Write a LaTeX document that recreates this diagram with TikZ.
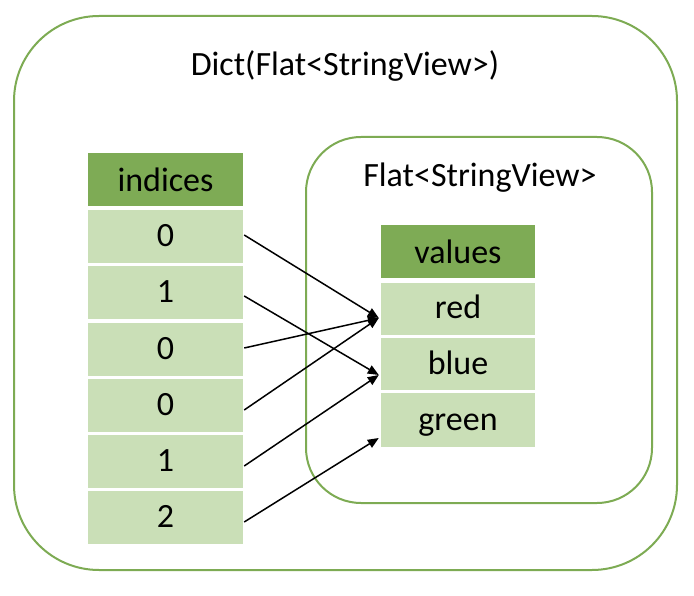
\documentclass[tikz,border=0pt]{standalone}
\usepackage{fontspec}
\setmainfont{Carlito}
\usetikzlibrary{arrows.meta,calc}
\definecolor{gframe}{HTML}{7DAB53}
\definecolor{ghead}{HTML}{7EAB55}
\definecolor{gcell}{HTML}{CADFB7}
\tikzset{
  container/.style={draw=gframe, line width=2pt, fill=none, inner sep=0pt},
  headbox/.style={fill=ghead, minimum height=53pt, inner sep=0pt, text height=25pt, text depth=0pt, font=\fontsize{34}{40}\selectfont},
  cellbox/.style={fill=gcell, minimum height=53pt, inner sep=0pt, text height=20pt, text depth=0pt, font=\fontsize{34}{40}\selectfont},
  lbl/.style={inner sep=0pt, font=\fontsize{34}{40}\selectfont},
  conn/.style={line width=1.5pt, -{Triangle[length=11pt,width=9pt]}},
}
\begin{document}
\begin{tikzpicture}[x=1pt,y=-1pt]
\useasboundingbox (0,0) rectangle (694,596);
% containers
\node[container, rounded corners=85pt, minimum width=663pt, minimum height=554pt] (outer) at (345.5,293) {};
\node[container, rounded corners=55pt, minimum width=346pt, minimum height=366pt] (inner) at (479,320) {};
\node[lbl] (dicttitle) at (345,66) {Dict(Flat<StringView>)};
\node[lbl] (flattitle) at (480,178) {Flat<StringView>};
% indices column
\node[headbox, minimum width=155pt] (ih) at (165.5,179.5) {indices};
\node[cellbox, minimum width=155pt] (i1) at (165.5,237) {0};
\node[cellbox, minimum width=155pt] (i2) at (165.5,293) {1};
\node[cellbox, minimum width=155pt] (i3) at (165.5,349.5) {0};
\node[cellbox, minimum width=155pt] (i4) at (165.5,405.5) {0};
\node[cellbox, minimum width=155pt] (i5) at (165.5,461.5) {1};
\node[cellbox, minimum width=155pt] (i6) at (165.5,517.5) {2};
% values column
\node[headbox, minimum width=154pt] (vh) at (458,251.5) {values};
\node[cellbox, minimum width=154pt, minimum height=52pt] (red) at (458,309) {red};
\node[cellbox, minimum width=154pt, minimum height=52pt] (blue) at (458,364) {blue};
\node[cellbox, minimum width=154pt, minimum height=54pt] (green) at (458,420) {green};
% arrow end points
\coordinate (tred) at ($(red.west)+(-2,9)$);
\coordinate (tblue) at ($(blue.west)+(-2,11)$);
\coordinate (tgreen) at ($(green.west)+(-2,18)$);
\draw[conn] ($(i1.east)+(1,-2)$) -- (tred);
\draw[conn] ($(i2.east)+(1,3)$) -- (tblue);
\draw[conn] ($(i3.east)+(1,-1.5)$) -- (tred);
\draw[conn] ($(i4.east)+(1,4.5)$) -- (tred);
\draw[conn] ($(i5.east)+(1,4.5)$) -- (tblue);
\draw[conn] ($(i6.east)+(1,4.5)$) -- (tgreen);
\end{tikzpicture}
\end{document}
